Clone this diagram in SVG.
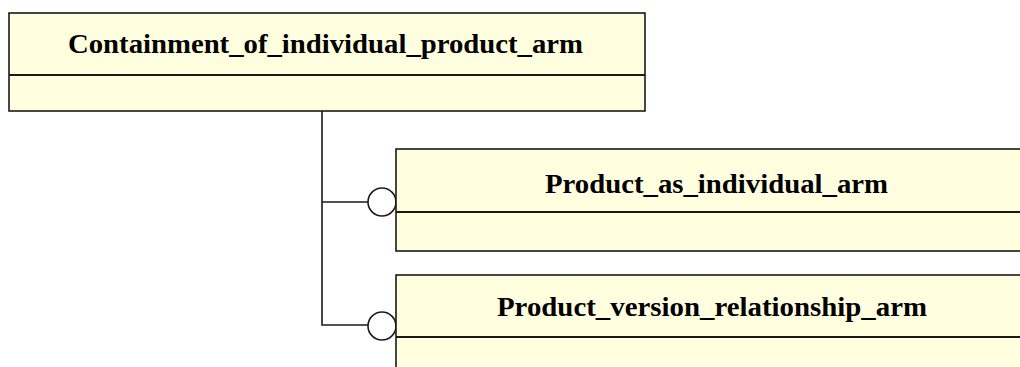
<svg xmlns="http://www.w3.org/2000/svg" width="1020" height="367" viewBox="0 0 1020 367">
  <style>
    .box { fill: #ffffdf; stroke: #1a1a1a; stroke-width: 1.6; }
    .div { stroke: #1a1a1a; stroke-width: 2; }
    .lbl { font-family: "Liberation Serif", "Times New Roman", serif; font-weight: bold; font-size: 28px; fill: #000; }
    .conn { fill: none; stroke: #1a1a1a; stroke-width: 1.6; }
    .ring { fill: #ffffff; stroke: #1a1a1a; stroke-width: 1.6; }
  </style>
  <rect width="1020" height="367" fill="#ffffff"/>
  <g id="connectors">
    <path class="conn" d="M322,111 V325 H368 M322,202 H368"/>
    <circle class="ring" cx="382" cy="202" r="14"/>
    <circle class="ring" cx="382" cy="326" r="14"/>
  </g>
  <g id="Containment_of_individual_product_arm">
    <rect class="box" x="9" y="13" width="636" height="98"/>
    <line class="div" x1="9" y1="75" x2="645" y2="75"/>
    <text class="lbl" x="68" y="53" textLength="515" lengthAdjust="spacingAndGlyphs">Containment_of_individual_product_arm</text>
  </g>
  <g id="Product_as_individual_arm">
    <rect class="box" x="396" y="149" width="640" height="102"/>
    <line class="div" x1="396" y1="212" x2="1036" y2="212"/>
    <text class="lbl" x="545" y="193" textLength="343" lengthAdjust="spacingAndGlyphs">Product_as_individual_arm</text>
  </g>
  <g id="Product_version_relationship_arm">
    <rect class="box" x="396" y="275" width="640" height="110"/>
    <line class="div" x1="396" y1="337" x2="1036" y2="337"/>
    <text class="lbl" x="497" y="316" textLength="430" lengthAdjust="spacingAndGlyphs">Product_version_relationship_arm</text>
  </g>
</svg>
